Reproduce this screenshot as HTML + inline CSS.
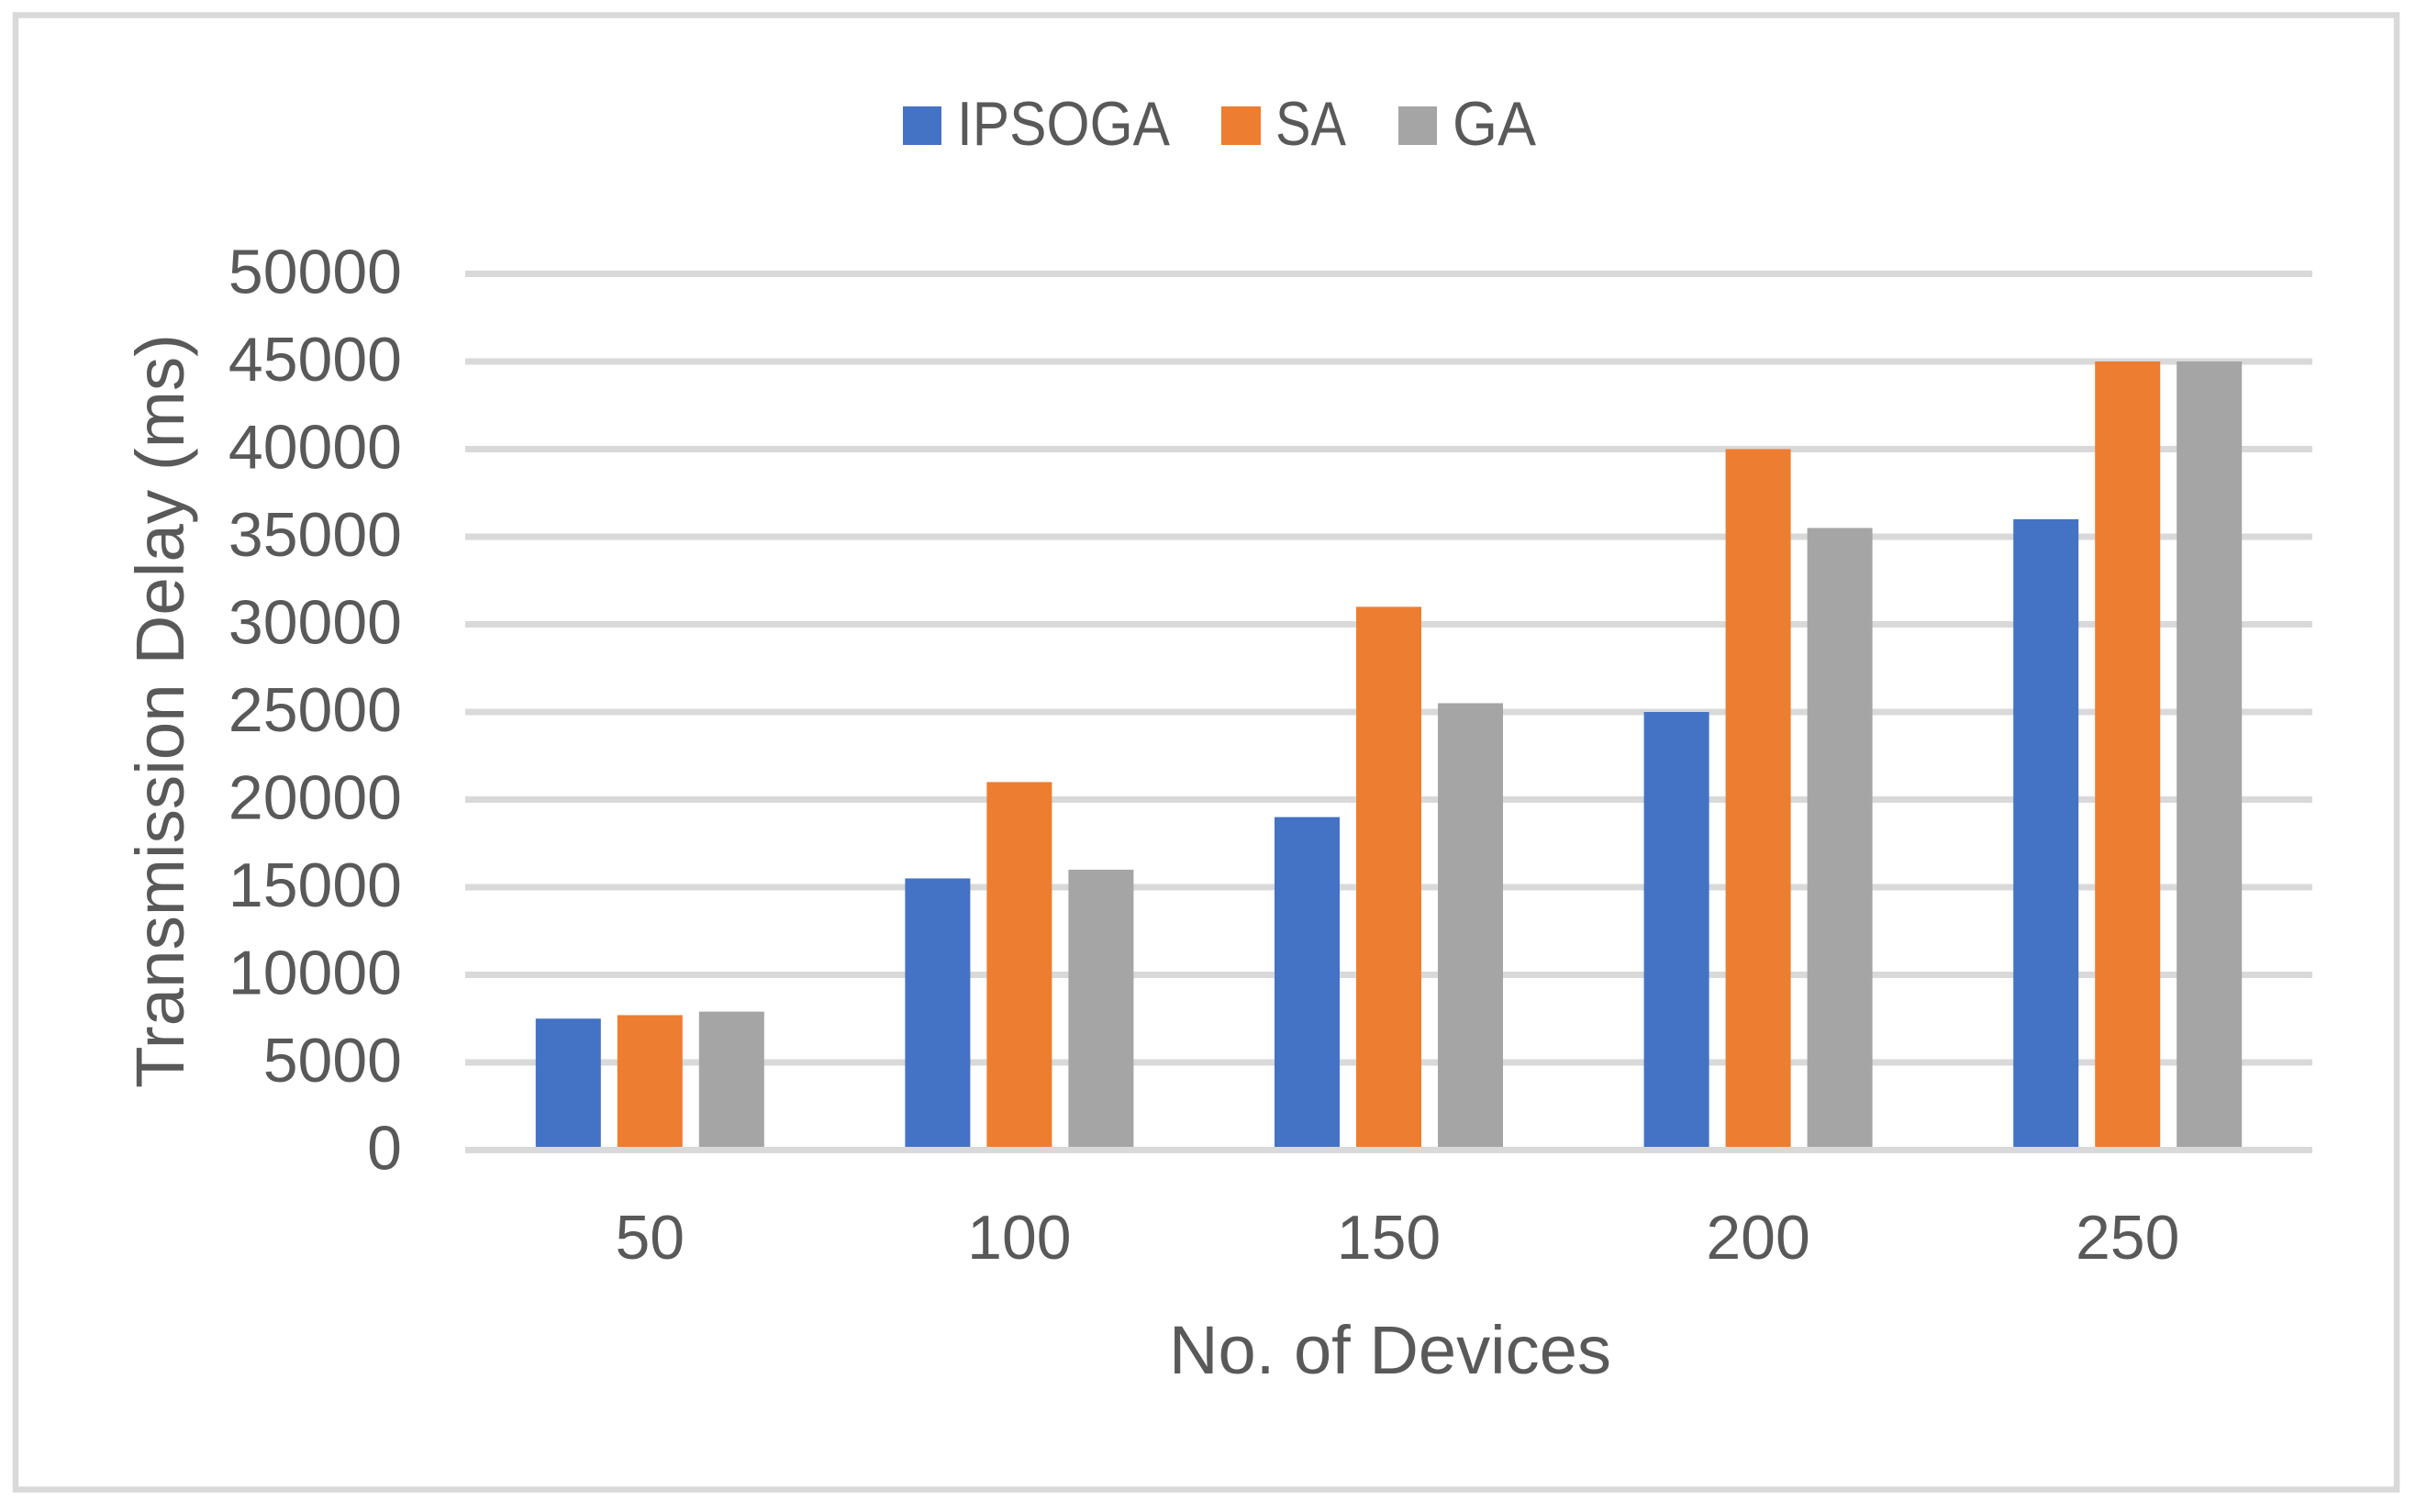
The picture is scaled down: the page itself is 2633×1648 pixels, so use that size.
<!DOCTYPE html>
<html lang="en">
<head>
<meta charset="utf-8">
<title>Transmission Delay vs No. of Devices</title>
<style>
html,body{margin:0;padding:0;background:#fff;}
svg{display:block;}
text{font-family:"Liberation Sans",sans-serif;fill:#595959;}
</style>
</head>
<body>
<svg id="chart" xmlns="http://www.w3.org/2000/svg" width="2633" height="1648" viewBox="0 0 2633 1648">
  <rect x="0" y="0" width="2633" height="1648" fill="#ffffff"/>
  <rect x="17" y="16.5" width="2595" height="1607" fill="#ffffff" stroke="#d9d9d9" stroke-width="6.5"/>
  <g id="gridlines"></g>
  <g id="bars"></g>
  <g id="axis-line"></g>
  <g id="y-ticks"></g>
  <g id="x-ticks"></g>
  <g>
    <g>
      <rect x="984" y="116" width="42" height="42" fill="#4472c4"/>
      <text x="1043" y="158" font-size="68" textLength="232" lengthAdjust="spacingAndGlyphs">IPSOGA</text>
    </g>
    <g>
      <rect x="1331" y="116" width="43" height="42" fill="#ed7d31"/>
      <text x="1390" y="158" font-size="68" textLength="77" lengthAdjust="spacingAndGlyphs">SA</text>
    </g>
    <g>
      <rect x="1524" y="116" width="42" height="42" fill="#a5a5a5"/>
      <text x="1583" y="158" font-size="68" textLength="91" lengthAdjust="spacingAndGlyphs">GA</text>
    </g>
  </g>
  <text transform="translate(200,1186) rotate(-90)" x="0" y="0" font-size="74" textLength="822" lengthAdjust="spacingAndGlyphs">Transmission Delay (ms)</text>
  <text x="1274" y="1497" font-size="74" textLength="482" lengthAdjust="spacingAndGlyphs">No. of Devices</text>
</svg>
<script>
const categories = ["50", "100", "150", "200", "250"];
const seriesNames = ["IPSOGA", "SA", "GA"];
const ipsogaValues = [7500, 15500, 19000, 25000, 36000];
const saValues = [7700, 21000, 31000, 40000, 45000];
const gaValues = [7900, 16000, 25500, 35500, 45000];
const yTickLabels = [0, 5000, 10000, 15000, 20000, 25000, 30000, 35000, 40000, 45000, 50000];

const NS = "http://www.w3.org/2000/svg";
const plot = { left: 507, right: 2520, top: 298.5, bottom: 1253.5 };
const yMax = 50000;
const barWidth = 71;
const barStep = 89;
const seriesColors = ["#4472c4", "#ed7d31", "#a5a5a5"];
const seriesValues = [ipsogaValues, saValues, gaValues];

function yScale(v) {
  return plot.bottom - (v / yMax) * (plot.bottom - plot.top);
}
function xCenter(i) {
  const band = (plot.right - plot.left) / categories.length;
  return plot.left + band * (i + 0.5);
}
function svgEl(tag) {
  return document.createElementNS(NS, tag);
}

const gridGroup = document.getElementById("gridlines");
const axisGroup = document.getElementById("axis-line");
const yTickGroup = document.getElementById("y-ticks");
const xTickGroup = document.getElementById("x-ticks");
const barGroup = document.getElementById("bars");

yTickLabels.forEach(function (tick) {
  const line = svgEl("rect");
  
  
  line.setAttribute("x", plot.left);
  line.setAttribute("y", yScale(tick) - 3.5);
  line.setAttribute("width", plot.right - plot.left);
  line.setAttribute("height", 7);
  line.setAttribute("fill", "#d9d9d9");
  (tick === 0 ? axisGroup : gridGroup).appendChild(line);

  const label = svgEl("text");
  
  
  label.setAttribute("x", 438);
  label.setAttribute("y", yScale(tick) + 21);
  label.setAttribute("font-size", 68);
  label.setAttribute("text-anchor", "end");
  label.textContent = String(tick);
  yTickGroup.appendChild(label);
});

categories.forEach(function (cat, i) {
  const label = svgEl("text");
  
  
  label.setAttribute("x", xCenter(i));
  label.setAttribute("y", 1372);
  label.setAttribute("font-size", 68);
  label.setAttribute("text-anchor", "middle");
  label.textContent = cat;
  xTickGroup.appendChild(label);

  seriesValues.forEach(function (values, s) {
    const bar = svgEl("rect");
    
    
    bar.setAttribute("x", xCenter(i) + (s - 1) * barStep - barWidth / 2);
    bar.setAttribute("y", yScale(values[i]));
    bar.setAttribute("width", barWidth);
    bar.setAttribute("height", yScale(0) - yScale(values[i]));
    bar.setAttribute("fill", seriesColors[s]);
    barGroup.appendChild(bar);
  });
});
</script>
</body>
</html>
